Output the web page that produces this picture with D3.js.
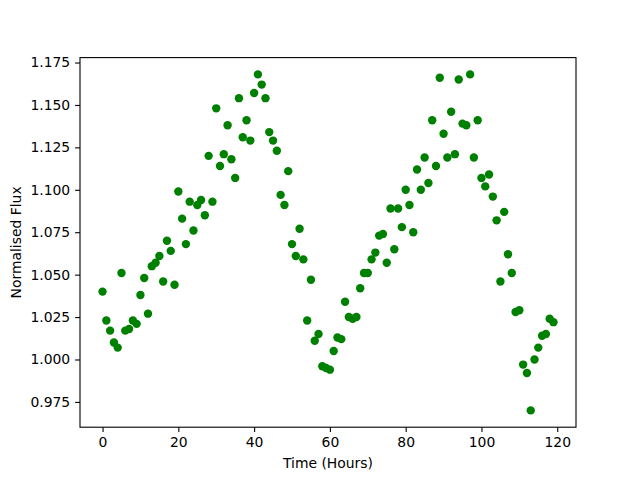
<!DOCTYPE html>
<html>
<head>
<meta charset="utf-8">
<script src="https://cdn.jsdelivr.net/npm/d3@7"></script>
<style>
  body { margin: 0; background: #fff; }
  text { font-family: "DejaVu Sans", sans-serif; }
</style>
</head>
<body>
<div id="chart"></div>
<script>
// hours 0..119, one reading per hour
const hours = d3.range(0, 120);
const flux = [
  1.040, 1.023, 1.017, 1.010, 1.007, 1.051, 1.017, 1.018, 1.023, 1.021,
  1.038, 1.048, 1.027, 1.055, 1.057, 1.061, 1.046, 1.070, 1.064, 1.044,
  1.099, 1.083, 1.068, 1.093, 1.076, 1.091, 1.094, 1.085, 1.120, 1.093,
  1.148, 1.114, 1.121, 1.138, 1.118, 1.107, 1.154, 1.131, 1.141, 1.129,
  1.157, 1.168, 1.162, 1.154, 1.134, 1.129, 1.123, 1.097, 1.091, 1.111,
  1.068, 1.061, 1.077, 1.059, 1.023, 1.047, 1.011, 1.015, 0.996, 0.995,
  0.994, 1.005, 1.013, 1.012, 1.034, 1.025, 1.024, 1.025, 1.042, 1.051,
  1.051, 1.059, 1.063, 1.073, 1.074, 1.057, 1.089, 1.065, 1.089, 1.078,
  1.100, 1.091, 1.075, 1.112, 1.100, 1.119, 1.104, 1.141, 1.114, 1.166,
  1.133, 1.119, 1.146, 1.121, 1.165, 1.139, 1.138, 1.168, 1.119, 1.141,
  1.107, 1.102, 1.109, 1.096, 1.082, 1.046, 1.087, 1.062, 1.051, 1.028,
  1.029, 0.997, 0.992, 0.970, 1.000, 1.007, 1.014, 1.015, 1.024, 1.022
];
const xTicks = [0, 20, 40, 60, 80, 100, 120];
const yTicks = [0.975, 1.000, 1.025, 1.050, 1.075, 1.100, 1.125, 1.150, 1.175];

let svgWidth = 640, svgHeight = 480,
  plotLeft = 80, plotRight = 576,
  plotTop = 57.6, plotBottom = 427.2;

const svg = d3.select('#chart')
  .append('svg')
  .attr('width', svgWidth)
  .attr('height', svgHeight);

// 5% padding like matplotlib autoscale
const xExt = d3.extent(hours), yExt = d3.extent(flux);
const xPad = (xExt[1] - xExt[0]) * 0.05, yPad = (yExt[1] - yExt[0]) * 0.05;

const x = d3.scaleLinear().domain([xExt[0] - xPad, xExt[1] + xPad]).range([plotLeft, plotRight]);
const y = d3.scaleLinear().domain([yExt[0] - yPad, yExt[1] + yPad]).range([plotBottom, plotTop]);

// points
svg.selectAll('.pt')
  .data(hours)
  .enter()
  .append('circle')
  .attr('class', 'pt')
  .attr('cx', d => x(d))
  .attr('cy', (d, i) => y(flux[i]))
  .attr('r', 4.2)
  .attr('fill', '#008000');

// axes
const xAxis = svg.append('g')
  .attr('transform', `translate(0,${plotBottom})`)
  .call(d3.axisBottom(x).tickValues(xTicks).tickSize(4.9).tickPadding(4.9).tickFormat(d3.format('d')));

const yAxis = svg.append('g')
  .attr('transform', `translate(${plotLeft},0)`)
  .call(d3.axisLeft(y).tickValues(yTicks).tickSize(4.9).tickPadding(4.9).tickFormat(d3.format('.3f')));

[xAxis, yAxis].forEach(g => {
  g.select('.domain').remove();
  g.selectAll('line').attr('stroke', '#000').attr('stroke-width', 1.1);
  g.selectAll('text').attr('font-size', 13.9).attr('fill', '#000').attr('font-family', '"DejaVu Sans", sans-serif');
});

// frame
svg.append('rect')
  .attr('x', plotLeft)
  .attr('y', plotTop)
  .attr('width', plotRight - plotLeft)
  .attr('height', plotBottom - plotTop)
  .attr('fill', 'none')
  .attr('stroke', '#000')
  .attr('stroke-width', 1.1);

// axis titles
svg.append('text')
  .attr('x', (plotLeft + plotRight) / 2)
  .attr('y', 468)
  .attr('text-anchor', 'middle')
  .attr('font-size', 13.9)
  .text('Time (Hours)');

svg.append('text')
  .attr('transform', `translate(21,${(plotTop + plotBottom) / 2}) rotate(-90)`)
  .attr('text-anchor', 'middle')
  .attr('font-size', 13.9)
  .text('Normalised Flux');
</script>
</body>
</html>
